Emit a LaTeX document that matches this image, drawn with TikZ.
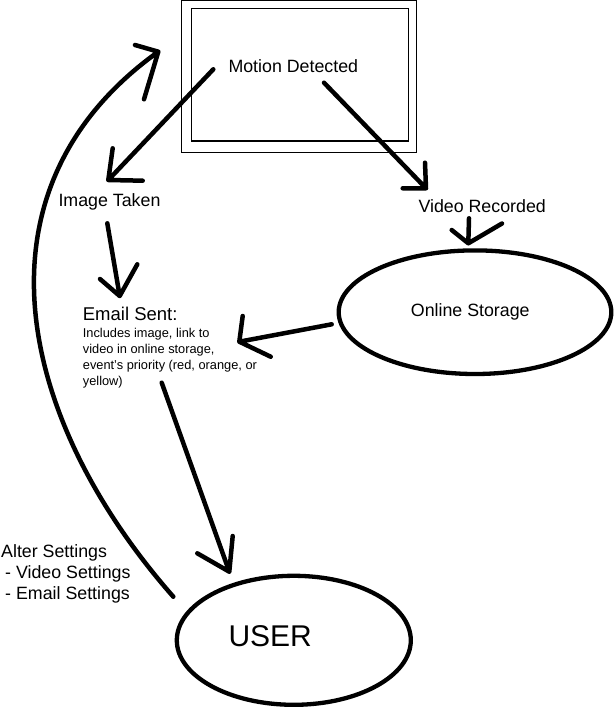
\documentclass[tikz,border=0pt]{standalone}
\usepackage{fontspec}
\setmainfont{Liberation Sans}
\usetikzlibrary{shapes.geometric}
\begin{document}
\begin{tikzpicture}[x=1pt,y=-1pt,
  thinbox/.style={draw,line width=1.3pt},
  conn/.style={draw,line width=4.5pt,line cap=round,line join=round},
  oval/.style={draw,ellipse,line width=4.3pt,inner sep=0pt},
  lbl/.style={anchor=base west,inner sep=0pt,font=\fontsize{17.8}{21}\selectfont},
  small/.style={anchor=base west,inner sep=0pt,font=\fontsize{12.8}{16}\selectfont}]
\useasboundingbox (0,0) rectangle (614,709);
% box
\draw[thinbox] (181.7,0.8) rectangle (416.7,152.7);
\draw[thinbox] (191.7,8.3) rectangle (408.3,141);
\coordinate (box) at (299,76);
% texts
\node[lbl] (motion) at (228.3,72.7) {Motion Detected};
\node[lbl] (image) at (58.3,206) {Image Taken};
\node[lbl] (video) at (418.3,212.3) {Video Recorded};
\node[anchor=base west,inner sep=0pt,font=\fontsize{18.5}{22}\selectfont] (email) at (82.7,320.7) {Email Sent:};
\node[small] (d1) at (82.7,337.3) {Includes image, link to};
\node[small] (d2) at (82.7,353.3) {video in online storage,};
\node[small] (d3) at (82.7,369.3) {event's priority (red, orange, or};
\node[small] (d4) at (82.7,385.3) {yellow)};
\node[lbl] (s1) at (1,557.3) {Alter Settings};
\node[lbl] (s2) at (5,578.3) {- Video Settings};
\node[lbl] (s3) at (5,599) {- Email Settings};
% ellipses
\node[oval,minimum width=272.6pt,minimum height=123.6pt] (storage) at (475,312.2) {};
\node[lbl] (storagetext) at (410.7,316) {Online Storage};
\node[oval,minimum width=234pt,minimum height=129pt] (user) at (293.8,640.3) {};
\node[anchor=base west,inner sep=0pt,font=\fontsize{30}{34}\selectfont] (usertext) at (228.3,646) {USER};
% connector points
\coordinate (a1s) at (213.3,69.3); \coordinate (a1t) at (108.3,180);
\coordinate (a1l) at (112.7,148.3); \coordinate (a1r) at (142.7,180.7);
\coordinate (a2s) at (324,82.7); \coordinate (a2t) at (426,188.3);
\coordinate (a2l) at (425,162.7); \coordinate (a2r) at (402.7,188.3);
\coordinate (a3s) at (469,218.3); \coordinate (a3t) at (468.3,243.3);
\coordinate (a3l) at (451.7,230); \coordinate (a3r) at (502,223.5);
\coordinate (a4s) at (107.3,223.3); \coordinate (a4t) at (119.7,296);
\coordinate (a4l) at (100,279); \coordinate (a4r) at (137.3,264.3);
\coordinate (a5s) at (331.7,324.3); \coordinate (a5t) at (239.3,341.7);
\coordinate (a5l) at (242.7,316); \coordinate (a5r) at (270.7,356.7);
\coordinate (a6s) at (161.7,382.7); \coordinate (a6t) at (229.3,571.7);
\coordinate (a6l) at (232.7,536); \coordinate (a6r) at (197.3,553.3);
\coordinate (a7s) at (173.3,596.7); \coordinate (a7t) at (158.3,51.7);
\coordinate (a7l) at (135,45); \coordinate (a7r) at (144,99.3);
% connectors
\draw[conn] (a1s) -- (a1t) (a1l) -- (a1t) -- (a1r);
\draw[conn] (a2s) -- (a2t) (a2l) -- (a2t) -- (a2r);
\draw[conn] (a3s) -- (a3t) (a3l) -- (a3t) -- (a3r);
\draw[conn] (a4s) -- (a4t) (a4l) -- (a4t) -- (a4r);
\draw[conn] (a5s) -- (a5t) (a5l) -- (a5t) -- (a5r);
\draw[conn] (a6s) -- (a6t) (a6l) -- (a6t) -- (a6r);
\draw[conn] (a7s) .. controls (17,419) and (-34,189.5) .. (a7t) (a7l) -- (a7t) -- (a7r);
\end{tikzpicture}
\end{document}
